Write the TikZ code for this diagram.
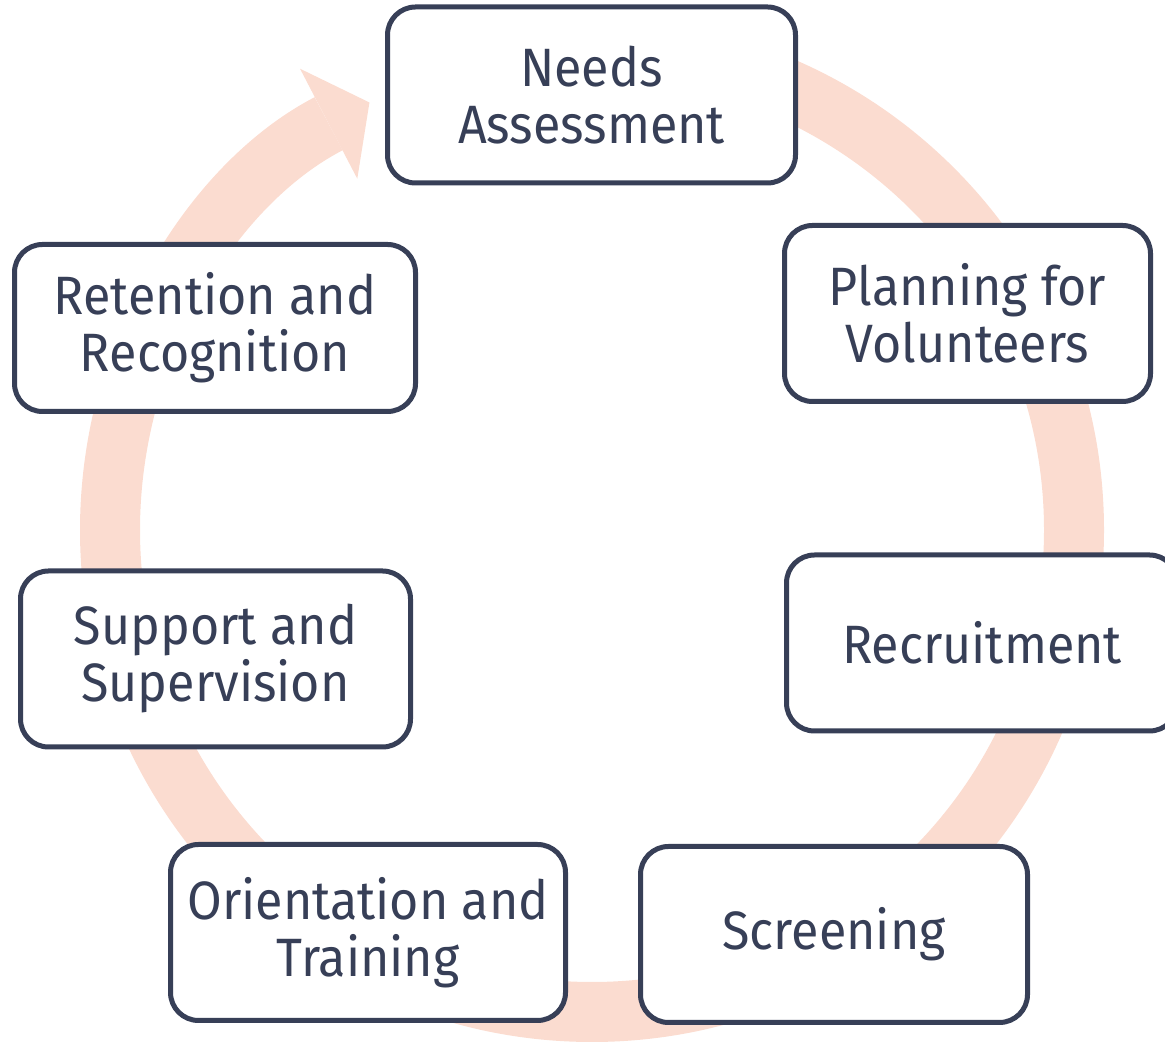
\documentclass[tikz,border=0pt]{standalone}
\usepackage{fontspec}
\setmainfont{Fira Sans}[FakeStretch=0.93]
\usepackage{tikz}
\usetikzlibrary{arrows.meta,positioning}
\definecolor{navy}{HTML}{373F57}
\definecolor{peach}{HTML}{FBDCD0}
\tikzstyle{stage} = [rectangle, draw=navy, line width=5pt, fill=white,
                     rounded corners=28pt, align=center, text=navy,
                     inner sep=0pt, minimum height=176pt,
                     font=\fontsize{54}{57}\selectfont]
\tikzstyle{cycle} = [draw=peach, line width=60pt,
                     -{Triangle[length=46pt, width=124pt, line width=0pt]}]

\begin{document}
\begin{tikzpicture}[x=1pt, y=1pt]
    \useasboundingbox (0,0) rectangle (1165,1046);
    \coordinate (hub) at (592,516);

    % the big ring goes clockwise and comes back into Needs Assessment
    \draw [cycle] (hub) ++(90:482) arc[start angle=90, end angle=-242.5, radius=482];

    \node [stage, minimum width=408pt] (needs) at (591.5,951) {Needs\\Assessment};
    \node [stage, minimum width=366pt] (planning) at (967.5,732.5) {Planning for\\Volunteers};
    \node [stage, minimum width=391pt] (recruit) at (982,403) {Recruitment};
    \node [stage, minimum width=387pt] (screening) at (834,111.5) {Screening};
    \node [stage, minimum width=395pt] (orient) at (368,113.5) {Orientation and\\Training};
    \node [stage, minimum width=390pt] (support) at (215.5,387) {Support and\\Supervision};
    \node [stage, minimum width=401pt, minimum height=167pt] (retain) at (215,718) {Retention and\\Recognition};
\end{tikzpicture}
\end{document}
